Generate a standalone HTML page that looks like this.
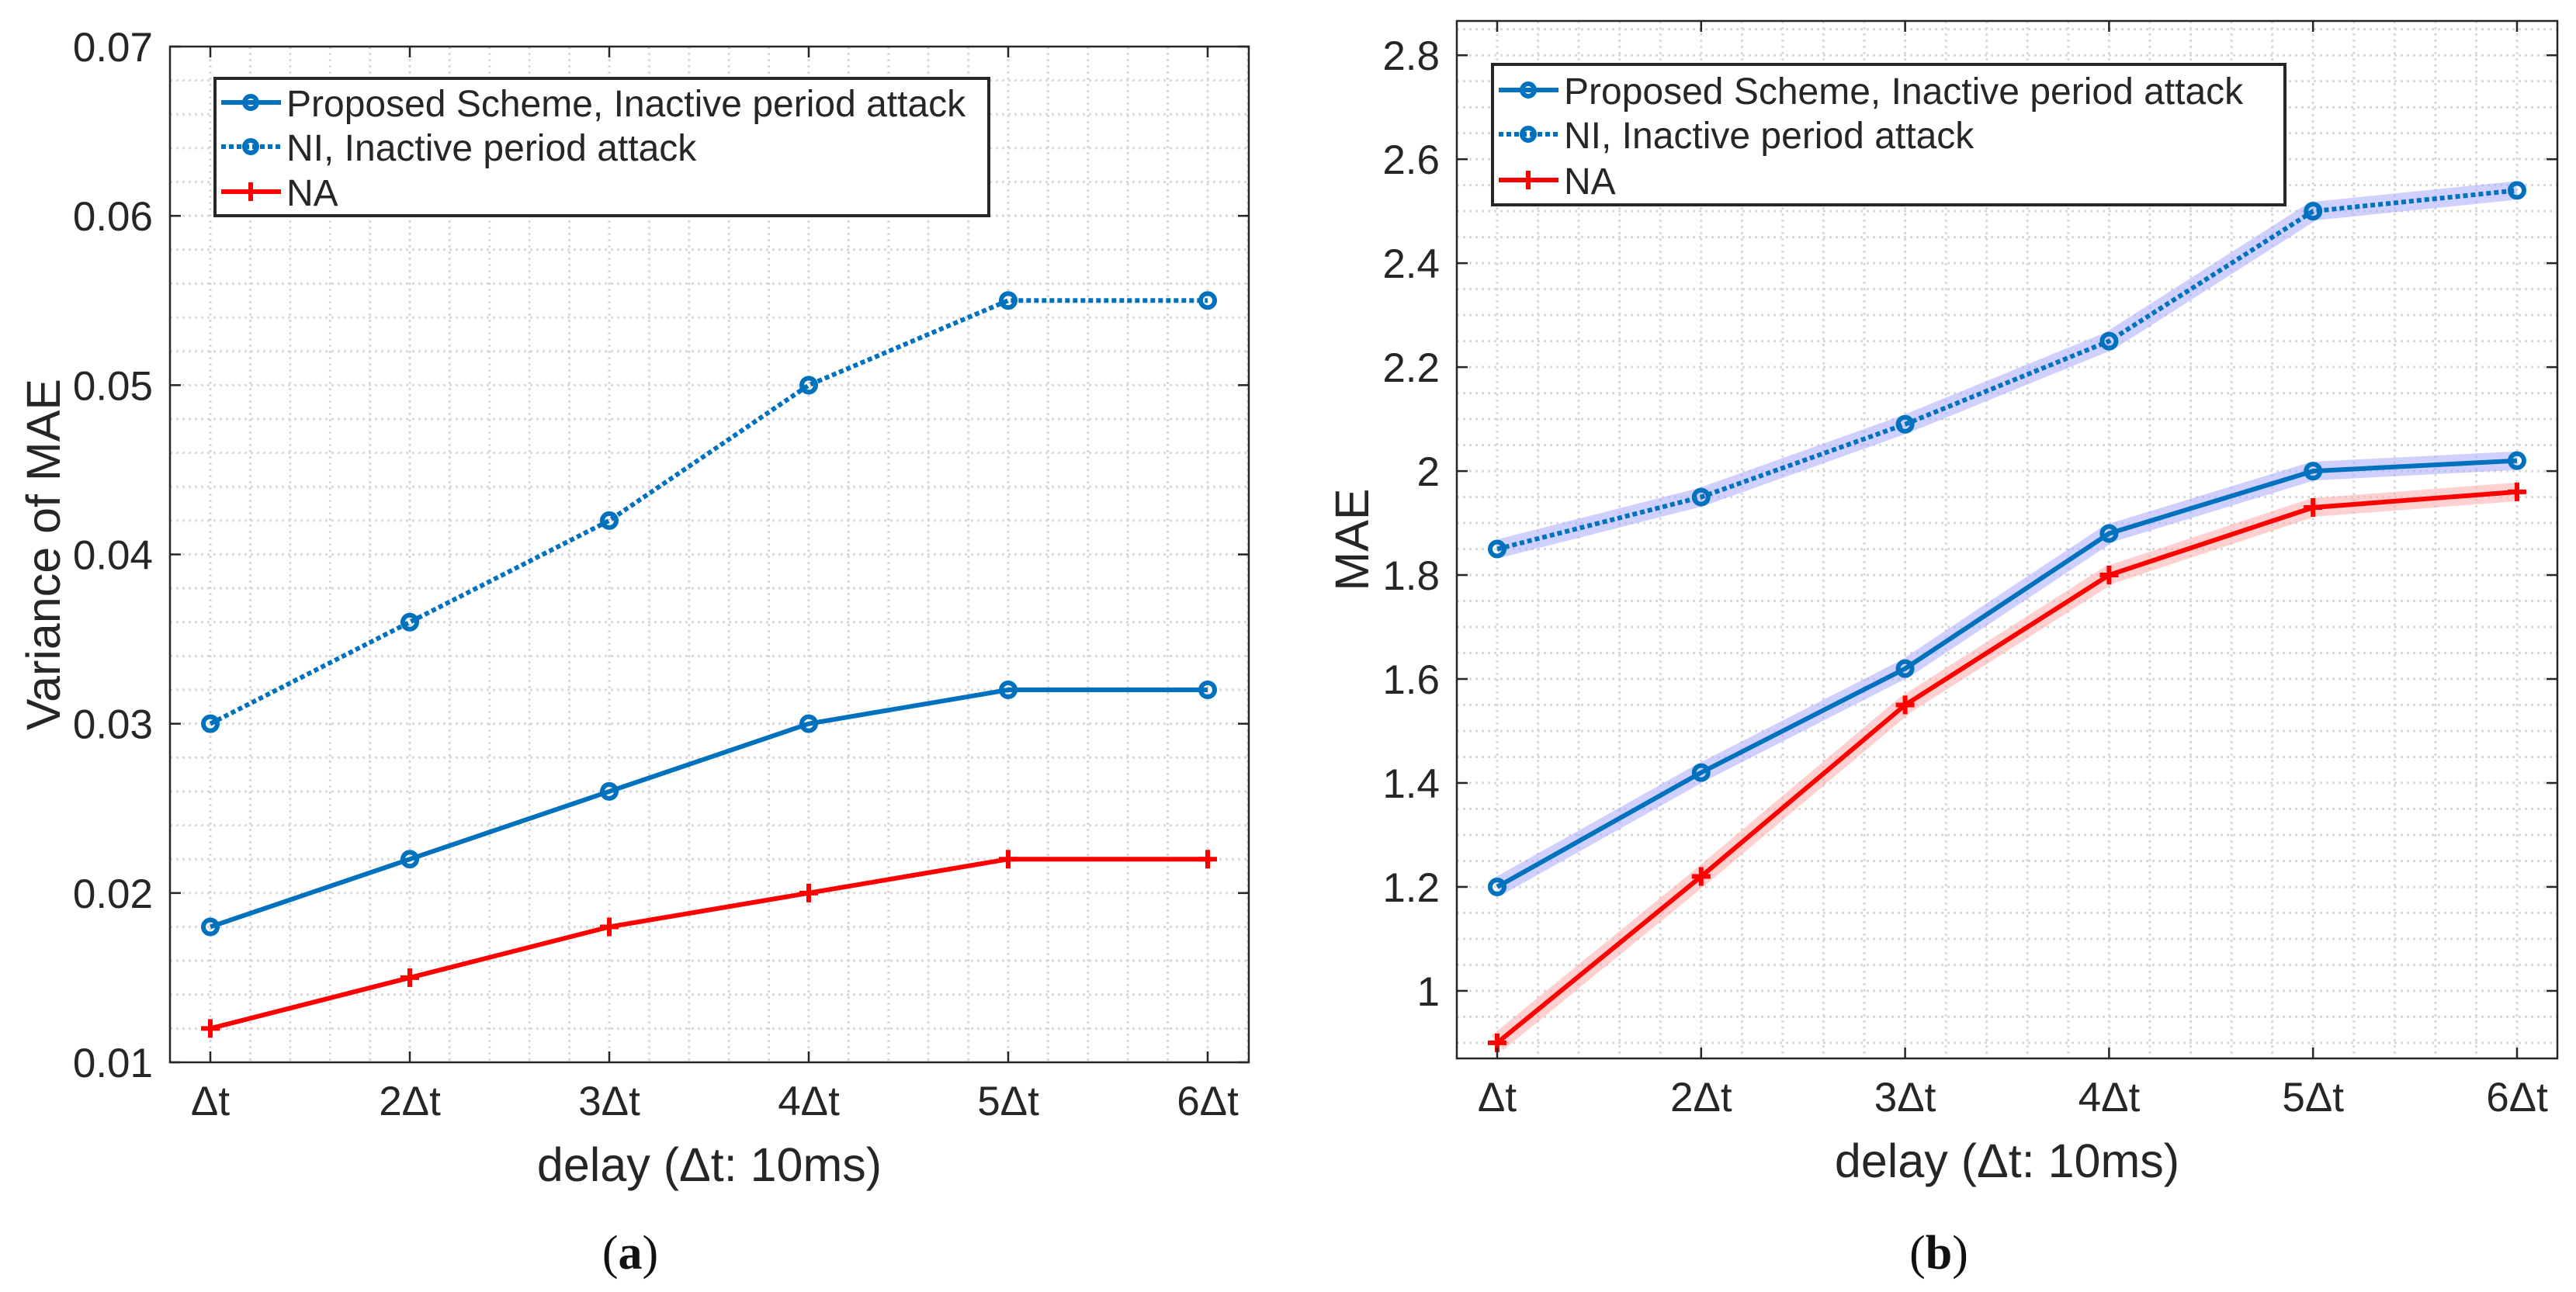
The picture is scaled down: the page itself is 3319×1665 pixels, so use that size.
<!DOCTYPE html>
<html><head><meta charset="utf-8"><style>
html,body{margin:0;padding:0;background:#fff;}
svg{display:block;font-family:"Liberation Sans",sans-serif;}
</style></head><body>
<svg id="fig" width="3319" height="1665" viewBox="0 0 3319 1665" xmlns="http://www.w3.org/2000/svg"></svg>
<script>
const categories = ["\u0394t","2\u0394t","3\u0394t","4\u0394t","5\u0394t","6\u0394t"];
const varProposed = [0.018,0.022,0.026,0.030,0.032,0.032];
const varNI = [0.030,0.036,0.042,0.050,0.055,0.055];
const varNA = [0.012,0.015,0.018,0.020,0.022,0.022];
const varTicks = ["0.01","0.02","0.03","0.04","0.05","0.06","0.07"];
const maeProposed = [1.20,1.42,1.62,1.88,2.00,2.02];
const maeNI = [1.85,1.95,2.09,2.25,2.50,2.54];
const maeNA = [0.90,1.22,1.55,1.80,1.93,1.96];
const maeTicks = ["1","1.2","1.4","1.6","1.8","2","2.2","2.4","2.6","2.8"];

const NS="http://www.w3.org/2000/svg";
const svg=document.getElementById('fig');
function mk(tag,attrs,parent){const e=document.createElementNS(NS,tag);for(const k in attrs)e.setAttribute(k,attrs[k]);(parent||svg).appendChild(e);return e;}

function panel(cfg){
  const g=mk('g',{});
  
  
  const {L,R,T,B,x0,x5,ymin,ymax}=cfg;
  const xs=i=>x0+(x5-x0)*i/5;
  const ys=v=>B-(v-ymin)/(ymax-ymin)*(B-T);
  const grid=mk('g',{},g);
  
  
  for(let k=-5;k<=30;k++){const x=x0+(x5-x0)/25*k;if(x<L+1||x>R-1)continue;
    mk('line',{x1:x,x2:x,y1:T,y2:B,stroke:'#d9d9d9','stroke-width':3,'stroke-dasharray':'3 5'},grid);}
  for(let v=cfg.gMin;v<=ymax+1e-9;v+=cfg.minorStep){const y=ys(v);if(y<T+1||y>B-1)continue;
    mk('line',{x1:L,x2:R,y1:y,y2:y,stroke:'#d9d9d9','stroke-width':3,'stroke-dasharray':'3 5'},grid);}
  function series(vals,color,dash,marker,band,name){
    const sg=mk('g',{},g);
    
    
    const pts=vals.map((v,i)=>xs(i)+','+ys(v)).join(' ');
    if(band) mk('polyline',{points:pts,fill:'none',stroke:band,'stroke-width':cfg.bandW||24,'stroke-linejoin':'miter'},sg);
    mk('polyline',{points:pts,fill:'none',stroke:color,'stroke-width':6,'stroke-dasharray':dash||'none'},sg);
    vals.forEach((v,i)=>{const x=xs(i),y=ys(v);
      if(marker==='o'){const c=mk('circle',{cx:x,cy:y,r:9,fill:'none',stroke:color,'stroke-width':6},sg);}
      else{const p=mk('path',{d:`M${x-12},${y}H${x+12}M${x},${y-12}V${y+12}`,stroke:color,'stroke-width':6},sg);}
    });
  }
  series(cfg.ni,'#0072BD','6 4','o',cfg.bands?'rgba(170,170,255,0.55)':null,'series-ni');
  series(cfg.prop,'#0072BD',null,'o',cfg.bands?'rgba(170,170,255,0.55)':null,'series-proposed');
  series(cfg.na,'#FF0000',null,'+',cfg.bands?'rgba(255,170,170,0.55)':null,'series-na');
  const ax=mk('g',{},g);
  
  
  mk('rect',{x:L,y:T,width:R-L,height:B-T,fill:'none',stroke:'#262626','stroke-width':2.5},ax);
  categories.forEach((c,i)=>{const x=xs(i);
    mk('line',{x1:x,x2:x,y1:B,y2:B-14,stroke:'#262626','stroke-width':2.5},ax);
    mk('line',{x1:x,x2:x,y1:T,y2:T+14,stroke:'#262626','stroke-width':2.5},ax);
    const t=mk('text',{x:x,y:B+68,'font-size':53,'text-anchor':'middle',fill:'#262626'},ax);t.textContent=c;
    });
  cfg.ticks.forEach(s=>{const y=ys(parseFloat(s));
    mk('line',{x1:L,x2:L+14,y1:y,y2:y,stroke:'#262626','stroke-width':2.5},ax);
    mk('line',{x1:R,x2:R-14,y1:y,y2:y,stroke:'#262626','stroke-width':2.5},ax);
    const t=mk('text',{x:L-22,y:y+19,'font-size':53,'text-anchor':'end',fill:'#262626'},ax);t.textContent=s;
    });
  const xl=mk('text',{x:(L+R)/2,y:B+153,'font-size':61,'text-anchor':'middle',fill:'#262626'},g);
  xl.textContent='delay (\u0394t: 10ms)';
  
  const yl=mk('text',{x:0,y:0,'font-size':61,'text-anchor':'middle',fill:'#262626',transform:`translate(${cfg.ylx},${(T+B)/2}) rotate(-90)`},g);
  yl.textContent=cfg.ylabel;
  
  const lg=mk('g',{},g);
  
  
  const {lx,ly,lw,lh,rows}=cfg.leg;
  mk('rect',{x:lx,y:ly,width:lw,height:lh,fill:'#fff',stroke:'#262626','stroke-width':4},lg);
  const labels=['Proposed Scheme, Inactive period attack','NI, Inactive period attack','NA'];
  const cols=['#0072BD','#0072BD','#FF0000'];
  labels.forEach((lab,i)=>{const y=rows[i];
    const e=mk('g',{},lg);
    
    
    mk('line',{x1:lx+8,x2:lx+85,y1:y,y2:y,stroke:cols[i],'stroke-width':6,'stroke-dasharray':i===1?'6 4':'none'},e);
    if(i<2) mk('circle',{cx:lx+46,cy:y,r:8,fill:'none',stroke:cols[i],'stroke-width':6},e);
    else mk('path',{d:`M${lx+46},${y-12}V${y+12}`,stroke:cols[i],'stroke-width':6},e);
    const t=mk('text',{x:lx+92,y:y+18,'font-size':48,fill:'#262626'},e);t.textContent=lab;});
  const cap=mk('text',{x:cfg.capx,y:1635,'font-size':62,'text-anchor':'middle',fill:'#111','font-family':'"Liberation Serif",serif'},g);
  cap.innerHTML='(<tspan font-weight="bold">'+cfg.cap+'</tspan>)';
  
}

panel({name:'panel-a-variance',L:219,R:1609,T:60,B:1369,x0:271,x5:1556,ymin:0.01,ymax:0.07,
  gMin:0.01,minorStep:0.002,ticks:varTicks,prop:varProposed,ni:varNI,na:varNA,bands:false,
  ylabel:'Variance of MAE',ylx:77,capx:812,cap:'a',
  leg:{lx:277,ly:101,lw:997,lh:177,rows:[132,189,247]}});
panel({name:'panel-b-mae',L:1877,R:3295,T:27,B:1364,x0:1929,x5:3243,ymin:0.870,ymax:2.866,
  gMin:0.9,minorStep:0.05,ticks:maeTicks,prop:maeProposed,ni:maeNI,na:maeNA,bands:true,bandW:24,
  ylabel:'MAE',ylx:1763,capx:2498,cap:'b',
  leg:{lx:1923,ly:83,lw:1021,lh:181,rows:[116,173,232]}});
</script>
</body></html>
